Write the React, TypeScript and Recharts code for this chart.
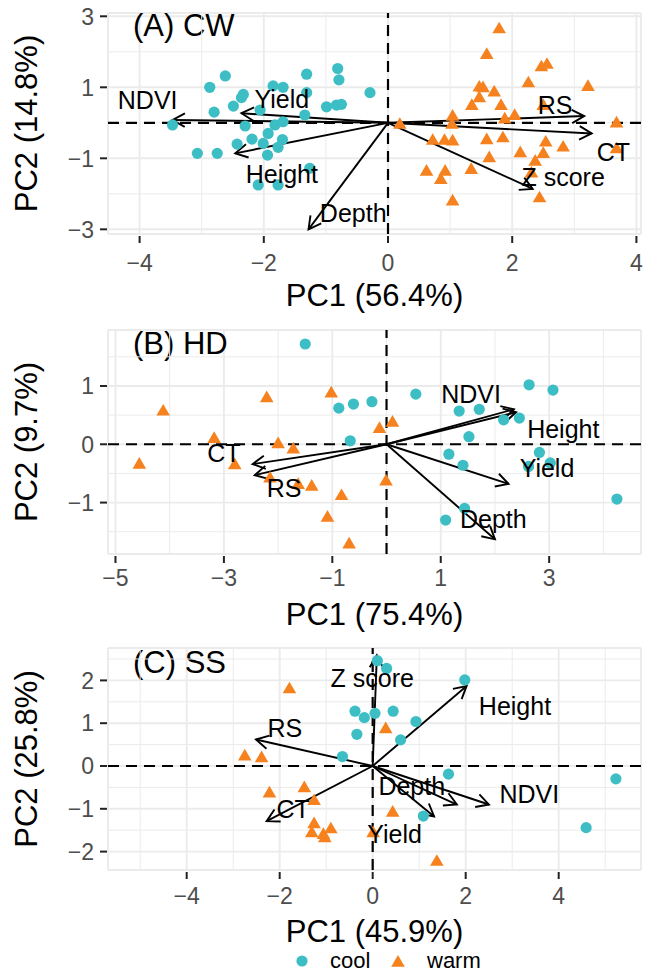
import React from "react";
import { ScatterChart, Scatter, XAxis, YAxis, ReferenceLine, CartesianGrid } from "recharts";

const COOL = "#3DBEC5";
const WARM = "#F5821F";
const FONT = "'Liberation Sans', Arial, Helvetica, sans-serif";
const W = 645;
const LEFT = 108;
const RIGHT = 641;

// (A) CW
const cwCool = [
  [-2.62, 1.32], [-2.87, 1.0], [-1.31, 1.37], [-0.81, 1.53], [-0.79, 1.21], [-1.85, 1.04], [-1.69, 1.0],
  [-2.33, 0.8], [-2.36, 0.71], [-1.31, 0.85], [-0.29, 0.85], [-2.49, 0.47], [-2.8, 0.3], [-2.06, 0.36],
  [-0.99, 0.45], [-0.83, 0.5], [-0.75, 0.52], [-1.34, 0.22], [-3.47, -0.06], [-2.3, -0.09], [-1.82, -0.06],
  [-1.69, 0.03], [-1.93, -0.3], [-2.19, -0.46], [-2.01, -0.58], [-1.7, -0.47], [-2.43, -0.6], [-1.77, -0.69],
  [-3.07, -0.86], [-2.75, -0.86], [-1.94, -0.91], [-1.26, -1.28], [-2.09, -1.75], [-1.77, -1.75],
];
const cwWarm = [
  [1.79, 2.68], [1.59, 1.96], [2.47, 1.61], [2.56, 1.68], [2.26, 1.16], [3.22, 1.06], [1.47, 1.04], [1.53, 1.02],
  [1.71, 0.9], [1.47, 0.74], [1.35, 0.52], [1.82, 0.52], [2.5, 0.52], [1.04, 0.22], [1.88, 0.14], [2.04, 0.24],
  [1.03, -0.01], [0.19, -0.01], [3.68, 0.03], [0.72, -0.46], [0.91, -0.46], [1.04, -0.48], [1.59, -0.44],
  [1.85, -0.39], [2.54, -0.51], [2.82, -0.65], [3.68, -0.7], [2.13, -0.81], [2.5, -0.83], [1.63, -0.95],
  [2.37, -1.05], [2.31, -1.38], [0.62, -1.33], [0.92, -1.33], [0.85, -1.56], [1.34, -1.28], [1.04, -2.17],
  [2.44, -2.08],
];
const cwArrows = [
  { name: "NDVI", x: -3.47, y: 0.08 }, { name: "Yield", x: -2.36, y: 0.27 }, { name: "Height", x: -2.46, y: -0.86 },
  { name: "Depth", x: -1.28, y: -3.0 }, { name: "RS", x: 3.16, y: 0.19 }, { name: "CT", x: 3.28, y: -0.3 },
  { name: "Z score", x: 2.33, y: -1.86 },
];
const cwLabels = [
  { name: "NDVI", x: -3.87, y: 0.64 }, { name: "Yield", x: -1.71, y: 0.67 }, { name: "Height", x: -1.71, y: -1.43 },
  { name: "Depth", x: -0.56, y: -2.55 }, { name: "RS", x: 2.69, y: 0.49 }, { name: "CT", x: 3.63, y: -0.82 },
  { name: "Z score", x: 2.82, y: -1.54 },
];

// (B) HD
const hdCool = [
  [-1.5, 1.72], [-0.88, 0.62], [-0.61, 0.69], [-0.27, 0.73], [0.54, 0.86], [-0.67, 0.06], [1.34, 0.57],
  [1.71, 0.6], [1.52, 0.13], [1.15, -0.17], [1.41, -0.36], [1.44, -1.1], [1.09, -1.3], [2.63, 1.02],
  [3.07, 0.93], [2.16, 0.42], [2.45, 0.45], [2.82, -0.14], [3.02, -0.32], [2.62, -0.38], [4.25, -0.94],
];
const hdWarm = [
  [-4.12, 0.59], [-2.21, 0.82], [-3.18, 0.12], [-2.0, 0.03], [-1.72, -0.06], [-4.56, -0.32], [-2.8, -0.33],
  [-2.15, -0.56], [-1.63, -0.67], [-1.38, -0.7], [-1.09, -1.23], [-1.02, 0.9], [-0.13, 0.29], [0.11, 0.4],
  [-0.01, -0.61], [-0.83, -0.86], [-0.69, -1.69],
];
const hdArrows = [
  { name: "NDVI", x: 2.35, y: 0.6 }, { name: "Height", x: 2.39, y: 0.55 }, { name: "Yield", x: 2.25, y: -0.68 },
  { name: "Depth", x: 2.0, y: -1.63 }, { name: "CT", x: -2.47, y: -0.34 }, { name: "RS", x: -2.43, y: -0.53 },
];
const hdLabels = [
  { name: "NDVI", x: 1.56, y: 0.86 }, { name: "Height", x: 3.26, y: 0.26 }, { name: "Yield", x: 2.96, y: -0.41 },
  { name: "Depth", x: 1.97, y: -1.29 }, { name: "CT", x: -3.0, y: -0.15 }, { name: "RS", x: -1.89, y: -0.75 },
];

// (C) SS
const ssCool = [
  [0.1, 2.46], [0.3, 2.28], [1.98, 2.01], [-0.38, 1.28], [-0.18, 1.13], [0.05, 1.23], [0.44, 1.28],
  [0.93, 1.04], [-0.34, 0.74], [0.6, 0.61], [-0.65, 0.22], [1.63, -0.19], [1.09, -1.17], [5.23, -0.3],
  [4.59, -1.44],
];
const ssWarm = [
  [-1.79, 1.83], [-2.75, 0.26], [-2.39, 0.22], [-2.22, -0.6], [-1.47, -0.48], [-1.26, -0.78], [-1.26, -1.32],
  [-1.31, -1.53], [-1.06, -1.57], [-1.03, -1.65], [-0.9, -1.44], [0.28, 0.9], [0.43, -1.05], [0.01, -1.53],
  [1.38, -2.2],
];
const ssArrows = [
  { name: "Z score", x: 0.09, y: 2.59 }, { name: "Height", x: 2.02, y: 1.87 }, { name: "NDVI", x: 2.5, y: -0.9 },
  { name: "Depth", x: 1.81, y: -0.9 }, { name: "Yield", x: 1.32, y: -1.18 }, { name: "RS", x: -2.51, y: 0.62 },
  { name: "CT", x: -2.28, y: -1.29 },
];
const ssLabels = [
  { name: "Z score", x: -0.01, y: 2.06 }, { name: "Height", x: 3.06, y: 1.41 }, { name: "NDVI", x: 3.37, y: -0.65 },
  { name: "Depth", x: 0.84, y: -0.46 }, { name: "Yield", x: 0.47, y: -1.59 }, { name: "RS", x: -1.89, y: 0.89 },
  { name: "CT", x: -1.71, y: -1.0 },
];

const fmt = (v: number) => (v < 0 ? "\u2212" + Math.abs(v) : String(v));
const toPts = (arr: number[][]) => arr.map(([x, y]) => ({ x, y }));

const Dot = (p: any) => <circle cx={p.cx} cy={p.cy} r={5.6} fill={COOL} />;
const Tri = (p: any) => (
  <polygon
    points={`${p.cx},${p.cy - 6} ${p.cx - 6.8},${p.cy + 5.7} ${p.cx + 6.8},${p.cy + 5.7}`}
    fill={WARM}
  />
);
const LabelText = (p: any) => (
  <text x={p.cx} y={p.cy} dy="0.36em" textAnchor="middle" fontSize={25} fontFamily={FONT} fill="#000">
    {p.payload?.name}
  </text>
);

// loading arrow: line from origin plus open head
const Arrow = (p: any) => {
  const { x1, y1, x2, y2 } = p;
  if ([x1, y1, x2, y2].some((v) => v == null || isNaN(v))) return null;
  const a = Math.atan2(y2 - y1, x2 - x1);
  const L = 14;
  const sp = 0.5;
  const h1 = `${x2 - L * Math.cos(a - sp)},${y2 - L * Math.sin(a - sp)}`;
  const h2 = `${x2 - L * Math.cos(a + sp)},${y2 - L * Math.sin(a + sp)}`;
  return (
    <g>
      <line x1={x1} y1={y1} x2={x2} y2={y2} stroke="#000" strokeWidth={1.9} />
      <polyline points={`${h1} ${x2},${y2} ${h2}`} fill="none" stroke="#000" strokeWidth={1.9} />
    </g>
  );
};

type PanelProps = {
  top: number;
  height: number;
  plotTop: number;
  plotBottom: number;
  xDomain: number[];
  yDomain: number[];
  xTicks: number[];
  yTicks: number[];
  xMinor: number[];
  yMinor: number[];
  cool: number[][];
  warm: number[][];
  arrows: { name: string; x: number; y: number }[];
  labels: { name: string; x: number; y: number }[];
  tag: string;
  tagY: number;
  xTitle: string;
  yTitle: string;
  tickY: number;
  titleY: number;
};

function Panel(p: PanelProps) {
  const mTop = p.plotTop - p.top;
  const xAxisH = p.top + p.height - p.plotBottom;
  const bottom = p.plotBottom - p.top;
  const midY = (p.plotTop + p.plotBottom) / 2 - p.top;
  const tickBase = p.tickY - p.top + 8;

  return (
    <div style={{ position: "absolute", left: 0, top: p.top }}>
      <ScatterChart width={W} height={p.height} margin={{ top: mTop, right: W - RIGHT, bottom: 0, left: 0 }}>
        <CartesianGrid stroke="#EBEBEB" strokeWidth={1.9} />
        {p.xMinor.map((v) => (
          <ReferenceLine key={"mx" + v} x={v} stroke="#EBEBEB" strokeWidth={1} />
        ))}
        {p.yMinor.map((v) => (
          <ReferenceLine key={"my" + v} y={v} stroke="#EBEBEB" strokeWidth={1} />
        ))}
        <XAxis
          type="number"
          dataKey="x"
          domain={p.xDomain}
          ticks={p.xTicks}
          interval={0}
          allowDataOverflow
          axisLine={false}
          tickLine={false}
          height={xAxisH}
          tick={(t: any) => (
            <g key={"xt" + t.payload.value}>
              <line x1={t.x} x2={t.x} y1={bottom + 2} y2={bottom + 9} stroke="#222" strokeWidth={2} />
              <text x={t.x} y={tickBase} textAnchor="middle" fontSize={23} fontFamily={FONT} fill="#4D4D4D">
                {fmt(t.payload.value)}
              </text>
            </g>
          )}
        />
        <YAxis
          type="number"
          dataKey="y"
          domain={p.yDomain}
          ticks={p.yTicks}
          interval={0}
          allowDataOverflow
          axisLine={false}
          tickLine={false}
          width={LEFT}
          tick={(t: any) => (
            <g key={"yt" + t.payload.value}>
              <line x1={100} x2={107} y1={t.y} y2={t.y} stroke="#222" strokeWidth={2} />
              <text x={94} y={t.y} dy="0.36em" textAnchor="end" fontSize={23} fontFamily={FONT} fill="#4D4D4D">
                {fmt(t.payload.value)}
              </text>
            </g>
          )}
        />
        <Scatter data={toPts(p.cool)} shape={Dot} isAnimationActive={false} />
        <Scatter data={toPts(p.warm)} shape={Tri} isAnimationActive={false} />
        <ReferenceLine x={0} stroke="#000" strokeWidth={2.2} strokeDasharray="11 7" />
        <ReferenceLine y={0} stroke="#000" strokeWidth={2.2} strokeDasharray="11 7" />
        {p.arrows.map((a) => (
          <ReferenceLine
            key={"ar" + a.name}
            segment={[{ x: 0, y: 0 }, { x: a.x, y: a.y }]}
            shape={Arrow}
          />
        ))}
        <Scatter data={p.labels} shape={LabelText} isAnimationActive={false} />
        <text x={133} y={p.tagY - p.top + 11} fontSize={31} fontFamily={FONT} fill="#000">
          {p.tag}
        </text>
        <text x={(LEFT + RIGHT) / 2} y={p.titleY - p.top} textAnchor="middle" fontSize={31} fontFamily={FONT} fill="#000">
          {p.xTitle}
        </text>
        <text
          x={36.5}
          y={midY}
          transform={`rotate(-90, 36.5, ${midY})`}
          textAnchor="middle"
          fontSize={31}
          fontFamily={FONT}
          fill="#000"
        >
          {p.yTitle}
        </text>
      </ScatterChart>
    </div>
  );
}

export default function App() {
  return (
    <div style={{ position: "absolute", left: 0, top: 0, width: W, height: 973, background: "#fff" }}>
      <Panel
        top={0}
        height={317}
        plotTop={13}
        plotBottom={234}
        xDomain={[-4.509, 4.074]}
        yDomain={[-3.132, 3.093]}
        xTicks={[-4, -2, 0, 2, 4]}
        yTicks={[-3, -1, 1, 3]}
        xMinor={[-3, -1, 1, 3]}
        yMinor={[-2, 0, 2]}
        cool={cwCool}
        warm={cwWarm}
        arrows={cwArrows}
        labels={cwLabels}
        tag="(A) CW"
        tagY={25}
        xTitle="PC1 (56.4%)"
        yTitle="PC2 (14.8%)"
        tickY={262.5}
        titleY={305.5}
      />
      <Panel
        top={317}
        height={317}
        plotTop={330}
        plotBottom={554}
        xDomain={[-5.138, 4.694]}
        yDomain={[-1.882, 1.96]}
        xTicks={[-5, -3, -1, 1, 3]}
        yTicks={[-1, 0, 1]}
        xMinor={[-4, -2, 0, 2, 4]}
        yMinor={[-1.5, -0.5, 0.5, 1.5]}
        cool={hdCool}
        warm={hdWarm}
        arrows={hdArrows}
        labels={hdLabels}
        tag="(B) HD"
        tagY={343}
        xTitle="PC1 (75.4%)"
        yTitle="PC2 (9.7%)"
        tickY={578}
        titleY={625}
      />
      <Panel
        top={634}
        height={339}
        plotTop={648}
        plotBottom={870}
        xDomain={[-5.692, 5.77]}
        yDomain={[-2.43, 2.757]}
        xTicks={[-4, -2, 0, 2, 4]}
        yTicks={[-2, -1, 0, 1, 2]}
        xMinor={[-5, -3, -1, 1, 3, 5]}
        yMinor={[-1.5, -0.5, 0.5, 1.5, 2.5]}
        cool={ssCool}
        warm={ssWarm}
        arrows={ssArrows}
        labels={ssLabels}
        tag="(C) SS"
        tagY={662}
        xTitle="PC1 (45.9%)"
        yTitle="PC2 (25.8%)"
        tickY={896}
        titleY={941.5}
      />
      <svg style={{ position: "absolute", left: 0, top: 943 }} width={W} height={30}>
        <circle cx={302} cy={18} r={5.6} fill={COOL} />
        <text x={330} y={25} fontSize={22} fontFamily={FONT} fill="#000">cool</text>
        <polygon points={`398,${18 - 6} ${398 - 6.8},${18 + 5.7} ${398 + 6.8},${18 + 5.7}`} fill={WARM} />
        <text x={427} y={25} fontSize={22} fontFamily={FONT} fill="#000">warm</text>
      </svg>
    </div>
  );
}
